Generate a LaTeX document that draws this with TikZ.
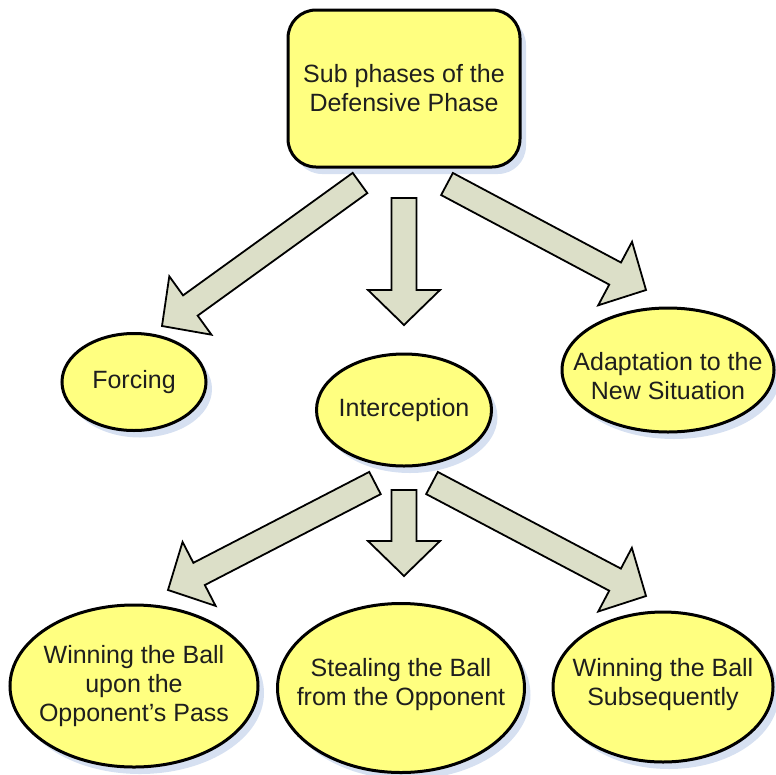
\documentclass[tikz,border=0pt]{standalone}
\usepackage{fontspec}
\setmainfont{Liberation Sans}
\usetikzlibrary{calc,shapes.geometric,shadows}
\definecolor{boxyellow}{HTML}{FFFF80}
\definecolor{arrowfill}{HTML}{DCDFC8}
\definecolor{shadowblue}{HTML}{D6E0F1}
\definecolor{txt}{HTML}{1E1E1E}
\tikzset{
  myshadow/.style={drop shadow={shadow xshift=6pt,shadow yshift=-7pt,fill=shadowblue,opacity=1}},
  bubble/.style={ellipse,draw=black,line width=3pt,fill=boxyellow,myshadow,inner sep=0pt},
  topbox/.style={rectangle,rounded corners=28pt,draw=black,line width=3pt,fill=boxyellow,myshadow,inner sep=0pt},
  label text/.style={align=center,text=txt,font=\fontsize{25}{29}\selectfont},
  arrowbox/.style={draw=black,line width=1.8pt,fill=arrowfill,line join=miter}
}
\newcommand\blockarrow[2]{%
  \coordinate (hb) at ($(#2)!35pt!(#1)$);
  \draw[arrowbox] ($(#1)!12.5pt!90:(#2)$) -- ($(hb)!12.5pt!90:(#2)$) -- ($(hb)!36pt!90:(#2)$)
    -- (#2) -- ($(hb)!36pt!-90:(#2)$) -- ($(hb)!12.5pt!-90:(#2)$) -- ($(#1)!12.5pt!-90:(#2)$) -- cycle;
}
\begin{document}
\begin{tikzpicture}[x=1pt,y=-1pt]
\useasboundingbox (0,0) rectangle (776,774);
% shapes
\node[topbox,minimum width=232pt,minimum height=157pt] (top) at (404,88.5) {};
\node[bubble,minimum width=144pt,minimum height=97pt] (forc) at (134,382) {};
\node[bubble,minimum width=175pt,minimum height=112pt] (inter) at (404,410) {};
\node[bubble,minimum width=212pt,minimum height=124pt] (adapt) at (668,370) {};
\node[bubble,minimum width=248pt,minimum height=162pt] (win1) at (134,686) {};
\node[bubble,minimum width=247pt,minimum height=169pt] (steal) at (401,688) {};
\node[bubble,minimum width=220pt,minimum height=150pt] (win2) at (663,687) {};
% texts
\node[label text] (toptext) at (top) {Sub phases of the\\Defensive Phase};
\node[label text] (forctext) at (forc) {Forcing};
\node[label text] (intertext) at (inter) {Interception};
\node[label text] (adapttext) at ($(adapt)+(0,6)$) {Adaptation to the\\New Situation};
\node[label text] (win1text) at (win1) {Winning the Ball\\upon the\\Opponent’s Pass};
\node[label text] (stealtext) at ($(steal)+(0,-3)$) {Stealing the Ball\\from the Opponent};
\node[label text] (win2text) at ($(win2)+(0,-2)$) {Winning the Ball\\Subsequently};
% arrow anchors
\coordinate (a1t) at (360,183); \coordinate (a1p) at (162,326);
\coordinate (a2t) at (404,198); \coordinate (a2p) at (404,325);
\coordinate (a3t) at (447,184); \coordinate (a3p) at (646,290);
\coordinate (a4t) at (375,483); \coordinate (a4p) at (168,590);
\coordinate (a5t) at (404,490); \coordinate (a5p) at (404,576);
\coordinate (a6t) at (432,483); \coordinate (a6p) at (646,596);
\blockarrow{a1t}{a1p}
\blockarrow{a2t}{a2p}
\blockarrow{a3t}{a3p}
\blockarrow{a4t}{a4p}
\blockarrow{a5t}{a5p}
\blockarrow{a6t}{a6p}
\end{tikzpicture}
\end{document}
